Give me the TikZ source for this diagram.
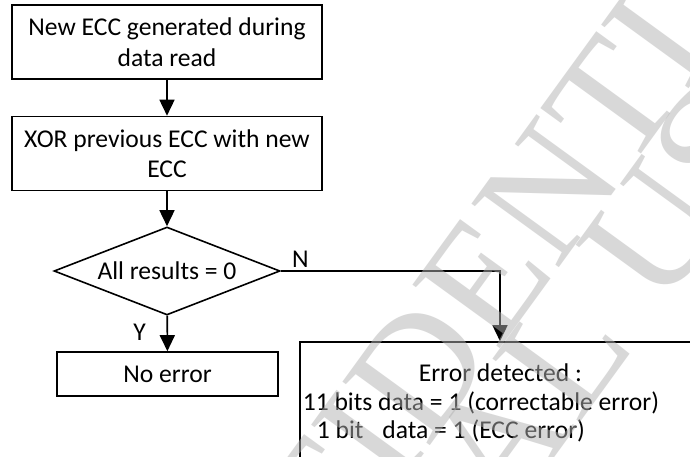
\documentclass[tikz,border=0pt]{standalone}
\usepackage{fontspec}
\setmainfont{Carlito}
\newfontfamily\wmfont{Liberation Serif}
\usetikzlibrary{arrows.meta,shapes.geometric}
\begin{document}
\begin{tikzpicture}[x=1pt,y=-1pt,
  line width=1.6pt,
  mainfont/.style={font=\fontsize{25.6}{30.5}\selectfont},
  procbox/.style={draw, rectangle, mainfont, align=center, inner sep=0pt},
  decbox/.style={draw, diamond, aspect=2.568, mainfont, inner sep=0pt},
  lbl/.style={mainfont, inner sep=0pt},
  errline/.style={mainfont, inner sep=0pt, anchor=base west},
  arr/.style={-{Triangle[length=16pt,width=15pt]}},
  wm/.style={rotate=54, font=\wmfont\fontsize{165}{165}\selectfont, text=black!30, inner sep=0pt}
]
\useasboundingbox (0,0) rectangle (690,457);
\clip (0,0) rectangle (690,457);
\fill[white] (0,0) rectangle (690,457);

\node[procbox, minimum width=310pt, minimum height=74pt] (b1) at (167,42) {New ECC generated during\\data read};
\node[procbox, minimum width=310pt, minimum height=74pt] (b2) at (167,153.5) {XOR previous ECC with new\\ECC};
\node[decbox, minimum width=226pt, minimum height=88pt] (dec) at (167,271) {All results = 0};
\node[procbox, minimum width=221pt, minimum height=44pt] (ok) at (167.5,374) {No error};
\node[draw, rectangle, minimum width=400pt, minimum height=158pt, inner sep=0pt] (err) at (500,421) {};

\node[errline] (l1) at (418,381.5) {Error detected :};
\node[errline] (l2) at (302,410) {11 bits data = 1 (correctable error)};
\node[errline] (l3) at (316,438) {1 bit\hspace{19pt}data = 1 (ECC error)};

\draw[arr] (b1) -- (b2);
\draw[arr] (b2) -- (dec);
\draw[arr] (dec) -- (ok);
\draw[arr] (dec.east) -| (err.north);

\node[lbl] (ylab) at (139.5,332) {Y};
\node[lbl] (nlab) at (300.5,259) {N};

\begin{scope}[opacity=0.5]
\node[wm] (wm1) at (448.5,328.6) {CONFIDENTIAL};
\node[wm, anchor=east] (wm2) at (801.5,26.6) {INTERNAL USE};
\end{scope}
\end{tikzpicture}
\end{document}
